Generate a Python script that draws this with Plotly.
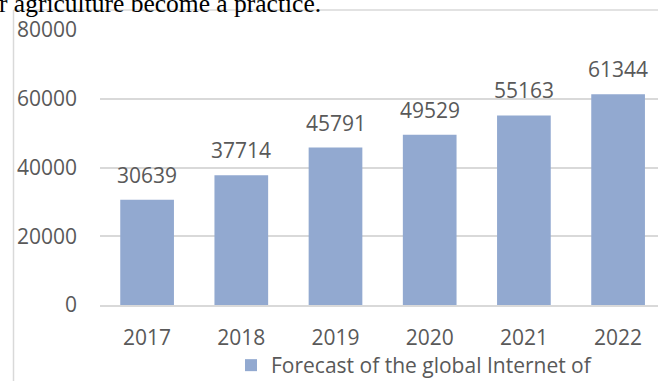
import plotly.graph_objects as go

years = ["2017", "2018", "2019", "2020", "2021", "2022"]
values = [30639, 37714, 45791, 49529, 55163, 61344]
series_name = "Forecast of the global Internet of"
y_ticks = [0, 20000, 40000, 60000, 80000]
heading = "r agriculture become a practice."

W, H = 658, 381
L, R, T, B = 100, 0, 30, 76
pw, ph = W - L - R, H - T - B

def px_x(x):
    return (x - L) / pw

def px_y(y):
    return (H - B - y) / ph

FONT = "Open Sans"
GREY = "#595959"
BAR = "#92A9D0"
LINE = "#D9D9D9"

fig = go.Figure()
fig.add_trace(go.Bar(
    x=years, y=values, name=series_name,
    marker=dict(color=BAR, line=dict(width=0)),
    showlegend=True,
))

for i, v in enumerate(values):
    fig.add_annotation(
        x=i, y=v, xref="x", yref="y", text=str(v), showarrow=False,
        yanchor="bottom", yshift=9,
        font=dict(family=FONT, size=21, color=GREY),
    )

fig.add_annotation(
    x=px_x(-3), y=px_y(20), xref="paper", yref="paper", text=heading,
    showarrow=False, xanchor="left", yanchor="bottom",
    font=dict(family="Liberation Serif", size=25.5, color="black"),
)

# chart-area border (left and top edges visible in the crop)
fig.add_shape(type="line", xref="paper", yref="paper",
              x0=px_x(13.5), x1=px_x(13.5), y0=px_y(10), y1=px_y(400),
              line=dict(color=LINE, width=1.5))
fig.add_shape(type="line", xref="paper", yref="paper",
              x0=px_x(13.5), x1=px_x(700), y0=px_y(10), y1=px_y(10),
              line=dict(color=LINE, width=1.5))

fig.update_layout(
    width=W, height=H,
    margin=dict(l=L, r=R, t=T, b=B, pad=0, autoexpand=False),
    paper_bgcolor="white", plot_bgcolor="white",
    bargap=0.43,
    font=dict(family=FONT, size=21, color=GREY),
    legend=dict(
        orientation="h", x=px_x(231), y=px_y(345), xanchor="left", yanchor="top",
        font=dict(family=FONT, size=21, color=GREY),
        bgcolor="rgba(0,0,0,0)", itemclick=False,
    ),
    xaxis=dict(
        type="category", range=[-0.5, -0.5 + pw / 94.2],
        showgrid=False, showline=True, linecolor=LINE, linewidth=1.5,
        ticks="", tickfont=dict(family=FONT, size=21, color=GREY),
        ticklabelstandoff=13, fixedrange=True, automargin=False,
    ),
    yaxis=dict(
        range=[0, 80000], tickvals=y_ticks, ticktext=[str(t) for t in y_ticks],
        showgrid=True, gridcolor=LINE, gridwidth=1.5, zeroline=False,
        showline=False, ticks="", tickfont=dict(family=FONT, size=21, color=GREY),
        ticklabelstandoff=22, fixedrange=True, automargin=False,
    ),
)

fig.write_html("out.html")
